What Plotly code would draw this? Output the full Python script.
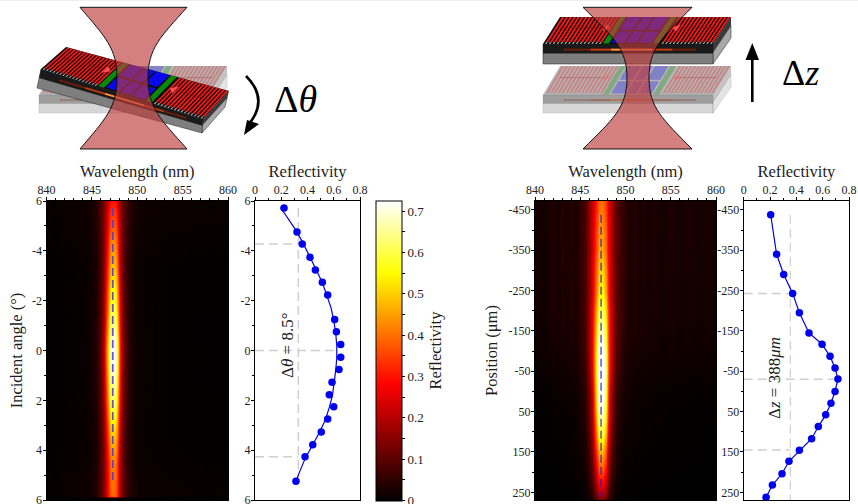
import plotly.graph_objects as go

W, H = 858, 504

# ---------- data ----------
wavelength_nm = [840, 841, 842, 842.5, 843, 843.5, 844, 844.5, 845, 845.5, 846, 846.3, 846.55, 846.8, 847.05,
                 847.3, 847.55, 847.8, 848.05, 848.3, 848.6, 849, 849.5, 850, 850.5, 851, 851.5, 852, 852.5,
                 853, 854, 855, 856, 857, 858, 859, 860]
line_profile = [0, .002, .004, .008, .004, .010, .008, .018, .025, .05, .14, .26, .45, .75, .97,
                1, .97, .75, .45, .26, .14, .06, .03, .014, .02, .008, .014, .005, .01,
                .004, .006, .002, .004, .001, .002, .001, 0]
background_streaks = [1, .6, 1.2, .7, 1.3, .8, 1.3, .8, 1.6, 2.2, 4, 5, 5, 5, 5,
                      5, 5, 5, 5, 5, 4, 3, 2, 1.3, .8, 1.2, .7, 1.2, .7,
                      1.1, .7, 1.1, .7, 1, .7, 1, .7]

angle_rows = [-6, -5.5, -5, -4.5, -4, -3.5, -3, -2.5, -2, -1.5, -1, -.5, 0, .5, 1, 1.5, 2, 2.5, 3, 3.5, 4, 4.5, 5, 5.5, 5.85, 5.9, 6]
angle_peak = [.24, .29, .33, .38, .42, .46, .50, .54, .57, .61, .65, .70, .73, .72, .69, .65, .62, .57, .52, .47, .43, .39, .37, .35, .34, 0, 0]
angle_background = [.012, .012, .01, .008, .006, .004, .003, .003, .003, .002, .002, .002, .002, .002, .002, .002, .003, .003, .003, .004, .005, .006, .008, .01, .01, 0, 0]

position_rows = [-472, -450, -400, -350, -300, -250, -200, -150, -100, -50, 0, 50, 100, 150, 200, 250, 262, 269]
position_peak = [.25, .26, .29, .32, .37, .42, .50, .58, .67, .74, .74, .69, .60, .47, .36, .22, .17, .12]
position_background = [.03, .03, .03, .028, .028, .025, .025, .022, .018, .012, .006, .004, .003, .002, .001, 0, 0, 0]

angle_points = [-5.72, -4.76, -4.27, -3.74, -3.23, -2.74, -2.23, -1.24, -.75, -.24, .27, .76, 1.27, 1.78, 2.26, 2.75, 3.27, 3.78, 4.26, 5.25]
angle_reflect = [.221, .32, .36, .419, .46, .513, .554, .607, .62, .653, .653, .64, .587, .566, .6, .554, .505, .44, .381, .312]
angle_fit_y = [-5.73, -5.2, -4.76, -4.27, -3.7, -3.2, -2.7, -2.2, -1.7, -1.2, -.7, -.2, .3, .8, 1.3, 1.8, 2.3, 2.8, 3.3, 3.8, 4.3, 4.8, 5.25]
angle_fit_r = [.196, .265, .32, .37, .425, .47, .515, .55, .58, .6, .615, .623, .623, .615, .605, .59, .565, .535, .49, .44, .385, .345, .312]

position_points = [-438, -340, -290, -243, -195, -145, -117, -87, -58, -31, 0, 29, 58, 87, 117, 146, 173, 204, 232, 262]
position_reflect = [.205, .25, .304, .372, .423, .496, .595, .656, .694, .716, .694, .663, .623, .567, .516, .423, .344, .291, .218, .17]

angle_ticks = [-6, -4, -2, 0, 2, 4, 6]
angle_tick_text = ['6', '-4', '-2', '0', '2', '4', '6']
position_ticks = [-450, -350, -250, -150, -50, 50, 150, 250]
position_tick_text = ['-450', '-350', '-250', '-150', '-50', '50', '150', '250']
colorbar_ticks = [0, .05, .1, .15, .2, .25, .3, .35, .4, .45, .5, .55, .6, .65, .7]
colorbar_text = ['0', '', '0.1', '', '0.2', '', '0.3', '', '0.4', '', '0.5', '', '0.6', '', '0.7\u00a0\u00a0']

angle_fwhm = [-4.27, 4.26]
position_fwhm = [-243, 145]
angle_mid_lambda = 847.3
position_mid_lambda = 847.3

# ---------- helpers ----------
def dom_x(a, b): return [a / W, b / W]
def dom_y(a, b): return [1 - b / H, 1 - a / H]
def fx(x): return round(x / W, 5)
def fy(y): return round(1 - y / H, 5)
def lerp(a, b, t): return (a[0] + (b[0] - a[0]) * t, a[1] + (b[1] - a[1]) * t)
def sub(pts): return 'M' + ' L'.join(f'{fx(x)},{fy(y)}' for x, y in pts) + ' Z'

shapes = []
def add(path, fill=None, line=None, w=0, op=1.0):
    shapes.append(dict(type='path', xref='paper', yref='paper', path=path, fillcolor=fill or 'rgba(0,0,0,0)',
                       line=dict(color=line or 'rgba(0,0,0,0)', width=w), opacity=op, layer='above'))

def device(A, B, C, D, E, F, G, op=1.0, n_left=15, n_right=14):
    def P(u, v): return lerp(lerp(B, C, u), lerp(A, D, u), v)
    def quad(u0, u1, v0, v1): return sub([P(u0, v0), P(u1, v0), P(u1, v1), P(u0, v1)])
    add(sub([C, D, lerp(D, G, .42), lerp(C, F, .42)]), '#3a3a3a', None, 0, op)
    add(sub([lerp(C, F, .42), lerp(D, G, .42), G, F]), '#a8a8a8', '#222', .5, op)
    add(sub([B, C, F, E]), '#7e7e7e', '#222', .5, op)
    add(sub([B, C, lerp(C, F, .48), lerp(B, E, .48)]), '#1a1a1a', None, 0, op)
    add(sub([A, B, C, D]), '#0c0c0c', None, 0, op)
    red, teeth = [], []
    for u0, u1, n in ((0.005, .345, n_left), (.69, .998, n_right)):
        pitch = (u1 - u0) / n
        for i in range(n):
            a = u0 + i * pitch
            red.append(quad(a + pitch * .3, a + pitch * .9, .07, 1))
            teeth.append(quad(a + pitch * .3, a + pitch * .7, 0, .07))
    add(' '.join(red), '#f01818', None, 0, op)
    add(' '.join(teeth), '#a0a0a0', None, 0, op)
    add(quad(.35, .385, .02, 1), '#0a8a0a', None, 0, op)
    add(quad(.645, .68, .02, 1), '#0a8a0a', None, 0, op)
    panels = [quad(a, b, c, d) for a, b in ((.395, .475), (.485, .545), (.555, .635))
              for c, d in ((.05, .47), (.53, 1))]
    add(' '.join(panels), '#0808f0', None, 0, op)
    # thin loop lines and arrows on the gratings
    add('M' + f'{fx(P(.04, .6)[0])},{fy(P(.04, .6)[1])} L{fx(P(.30, .6)[0])},{fy(P(.30, .6)[1])}', None, '#8a1010', .8, op)
    add('M' + f'{fx(P(.96, .6)[0])},{fy(P(.96, .6)[1])} L{fx(P(.72, .6)[0])},{fy(P(.72, .6)[1])}', None, '#8a1010', .8, op)
    add(sub([P(.335, .6), P(.30, .73), P(.30, .47)]), '#ff5050', None, 0, op)
    add(sub([P(.70, .6), P(.735, .73), P(.735, .47)]), '#ff5050', None, 0, op)
    # glowing guided mode along the front face
    for u0, u1, col, wd in ((.12, .9, '#7a1c06', 1.6), (.28, .76, '#c83c10', 1.6), (.40, .64, '#ffa040', 1.6)):
        p0 = lerp(lerp(B, E, .28), lerp(C, F, .28), u0)
        p1 = lerp(lerp(B, E, .28), lerp(C, F, .28), u1)
        add(f'M{fx(p0[0])},{fy(p0[1])} L{fx(p1[0])},{fy(p1[1])}', None, col, wd, op)

def beam(xl0, xr0, xwl, xwr, ytop, ybot, yw):
    def c(pts): return ' '.join(f'{fx(x)},{fy(y)}' for x, y in pts)
    dl, dr = xwl - xl0, xr0 - xwr
    ht, hb = yw - ytop, ybot - yw
    left = f'M{c([(xl0, ytop)])} C{c([(xl0 + dl * .68, ytop + ht * .42), (xwl, yw - ht * .42), (xwl, yw)])} C{c([(xwl, yw + hb * .42), (xl0 + dl * .68, ybot - hb * .42), (xl0, ybot)])}'
    right = f'M{c([(xr0, ytop)])} C{c([(xr0 - dr * .68, ytop + ht * .42), (xwr, yw - ht * .42), (xwr, yw)])} C{c([(xwr, yw + hb * .42), (xr0 - dr * .68, ybot - hb * .42), (xr0, ybot)])}'
    fill = left + f' L{c([(xr0, ybot)])} C{c([(xr0 - dr * .68, ybot - hb * .42), (xwr, yw + hb * .42), (xwr, yw)])} C{c([(xwr, yw - ht * .42), (xr0 - dr * .68, ytop + ht * .42), (xr0, ytop)])} Z'
    add(fill, 'rgba(190,60,60,0.65)')
    add(left, None, '#111', 1)
    add(right, None, '#111', 1)
    add(f'M{c([(xl0, ytop)])} L{c([(xr0, ytop)])}', None, '#111', 1)
    add(f'M{c([(xl0, ybot)])} L{c([(xr0, ybot)])}', None, '#111', 1)

# top hairline of the page
add(sub([(0, 0), (W, 0), (W, 1), (0, 1)]), '#eeeeee')

ghost = [(560, 66), (543, 95), (713, 95), (731, 66), (543, 113), (713, 113), (731, 87)]
device(*[(x - 504, y) for x, y in ghost], op=.3)
device((66, 47), (41, 69), (203, 119), (229, 91), (37, 88), (202, 133), (225, 107), n_left=17, n_right=15)
beam(80, 187, 117, 148, 7.3, 149, 78)

device(*ghost, op=.3)
device((560, 17), (543, 44), (713, 44), (731, 17), (543, 64), (713, 64), (731, 38))
beam(583, 692, 627, 649, 7.3, 149, 78)

# motion arrows
add(f'M{fx(246)},{fy(76)} C{fx(262)},{fy(92)} {fx(262)},{fy(108)} {fx(249)},{fy(124)}', None, '#000', 2.6)
add(sub([(244, 135), (259, 124), (247, 120)]), '#000')
add(f'M{fx(752.3)},{fy(102)} L{fx(752.3)},{fy(58)}', None, '#000', 2.6)
add(sub([(752.3, 43), (745.5, 60), (759, 60)]), '#000')

# ---------- figure ----------
hot = [[0, '#000000'], [.39, '#ff0000'], [.76, '#ffff00'], [1, '#ffffff']]
TXT = '#1c1c1c'
gray = '#cfcfcf'
font = 'Liberation Serif'

def matrix(peak, bg):
    return [[p * s + b * t for s, t in zip(line_profile, background_streaks)] for p, b in zip(peak, bg)]

fig = go.Figure()
fig.add_trace(go.Heatmap(x=wavelength_nm, y=angle_rows, z=matrix(angle_peak, angle_background), coloraxis='coloraxis',
                         zsmooth='best', xaxis='x', yaxis='y', hoverinfo='skip'))
fig.add_trace(go.Scatter(x=[angle_mid_lambda, angle_mid_lambda], y=[angle_points[0], angle_points[-1]], mode='lines',
                         line=dict(color='rgba(80,50,220,0.85)', width=1.8, dash='8px,4px'), xaxis='x', yaxis='y'))
fig.add_trace(go.Heatmap(x=wavelength_nm, y=position_rows, z=matrix(position_peak, position_background), coloraxis='coloraxis',
                         zsmooth='best', xaxis='x3', yaxis='y3', hoverinfo='skip'))
fig.add_trace(go.Scatter(x=[position_mid_lambda, position_mid_lambda], y=[position_points[0], position_points[-1]], mode='lines',
                         line=dict(color='#1a1ae0', width=1.1, dash='8px,4px'), xaxis='x3', yaxis='y3'))

# reflectivity vs. angle
half_line = angle_reflect[2] - .03
dash = dict(color=gray, width=1.5, dash='9px,5px')
for ys, xs in (([angle_fwhm[0]] * 2, [0, half_line]), ([0, 0], [0, angle_fit_r[11]]), ([angle_fwhm[1]] * 2, [0, half_line]),
               ([angle_points[0], angle_points[-1]], [half_line, half_line])):
    fig.add_trace(go.Scatter(x=xs, y=ys, mode='lines', line=dash, xaxis='x2', yaxis='y2'))
fig.add_trace(go.Scatter(x=angle_fit_r, y=angle_fit_y, mode='lines', line=dict(color='#0000f0', width=1.2), xaxis='x2', yaxis='y2'))
fig.add_trace(go.Scatter(x=angle_reflect, y=angle_points, mode='markers', marker=dict(color='#0000f0', size=7.5), xaxis='x2', yaxis='y2'))

# reflectivity vs. position
half_p = .354
for ys, xs in (([position_fwhm[0]] * 2, [0, half_p]), ([-30, -30], [0, position_reflect[9]]), ([position_fwhm[1]] * 2, [0, half_p])):
    fig.add_trace(go.Scatter(x=xs, y=ys, mode='lines', line=dash, xaxis='x4', yaxis='y4'))
fig.add_trace(go.Scatter(x=[half_p, half_p], y=[position_points[0], 269], mode='lines',
                         line=dict(color=gray, width=1.2, dash='9px,5px'), xaxis='x4', yaxis='y4'))
fig.add_trace(go.Scatter(x=position_reflect, y=position_points, mode='lines+markers', line=dict(color='#0000f0', width=1.2),
                         marker=dict(color='#0000f0', size=7.5), xaxis='x4', yaxis='y4'))

def top_axis(dom, rng, title, anchor, dtick, minor):
    return dict(domain=dom, range=rng, side='top', anchor=anchor, dtick=dtick, tick0=rng[0], ticks='outside', ticklen=3,
                tickcolor='#000', showline=True, linecolor='#000', linewidth=1, mirror=True, showgrid=False, zeroline=False,
                automargin=True, ticklabelstandoff=-2,
                minor=dict(dtick=minor, ticks='outside', ticklen=2, tickcolor='#000', showgrid=False),
                title=dict(text=title, standoff=1, font=dict(size=16.5, color=TXT, family=font)),
                tickfont=dict(size=12, color=TXT, family=font))

def side_axis(dom, rng, anchor, vals, text, minor, title=None, standoff=8):
    d = dict(domain=dom, range=rng, anchor=anchor, tickmode='array', tickvals=vals, ticktext=text, ticks='outside', ticklen=3,
             tickcolor='#000', showline=True, linecolor='#000', linewidth=1, mirror=True, showgrid=False, zeroline=False,
             automargin=True, ticklabelstandoff=-2, ticklabeloverflow='allow',
             minor=dict(tickvals=minor, ticks='outside', ticklen=2, tickcolor='#000', showgrid=False),
             tickfont=dict(size=12, color=TXT, family=font))
    if title:
        d['title'] = dict(text=title, standoff=standoff, font=dict(size=16.5, color=TXT, family=font))
    return d

ymain = dom_y(201, 500)
angle_minor = [-5, -3, -1, 1, 3, 5]
pos_minor = [-400, -300, -200, -100, 0, 100, 200]

fig.update_layout(
    width=W, height=H, margin=dict(l=0, r=0, t=0, b=0, autoexpand=False), paper_bgcolor='white', plot_bgcolor='white', showlegend=False,
    font=dict(family=font, size=12, color=TXT),
    xaxis=top_axis(dom_x(46.5, 228), [840, 860], 'Wavelength (nm)', 'y', 5, 1),
    yaxis=side_axis(ymain, [6, -6], 'x', angle_ticks, angle_tick_text, angle_minor, 'Incident angle (°)', 5),
    xaxis2=top_axis(dom_x(255, 360), [0, .8], 'Reflectivity', 'y2', .2, .1),
    yaxis2=side_axis(ymain, [6, -6], 'x2', angle_ticks, angle_tick_text, angle_minor),
    xaxis3=top_axis(dom_x(535, 716), [840, 860], 'Wavelength (nm)', 'y3', 5, 1),
    yaxis3=side_axis(ymain, [269, -472], 'x3', position_ticks, position_tick_text, pos_minor, 'Position (μm)', 6),
    xaxis4=top_axis(dom_x(743.7, 849), [0, .8], 'Reflectivity', 'y4', .2, .1),
    yaxis4=side_axis(ymain, [269, -472], 'x4', position_ticks, position_tick_text, pos_minor),
    coloraxis=dict(cmin=0, cmax=.7257, colorscale=hot, colorbar=dict(
        x=375.7 / W, xanchor='left', y=1 - 500.5 / H, yanchor='bottom', len=299.5, lenmode='pixels', thickness=26,
        thicknessmode='pixels', xpad=0, ypad=0, tickmode='array', tickvals=colorbar_ticks, ticktext=colorbar_text,
        ticks='outside', ticklen=3, tickcolor='#000', outlinewidth=1, outlinecolor='#000', ticklabeloverflow='allow',
        tickfont=dict(size=13, color=TXT, family=font),
        title=dict(text='Reflectivity', side='right', font=dict(size=16.5, color=TXT, family=font)))),
    shapes=shapes,
    annotations=[
        dict(text='Δ<i>θ</i>', x=295 / W, y=1 - 99 / H, xref='paper', yref='paper', showarrow=False, xanchor='center', yanchor='middle',
             font=dict(size=38, color='#000', family=font)),
        dict(text='Δ<i>z</i>', x=800 / W, y=1 - 73 / H, xref='paper', yref='paper', showarrow=False, xanchor='center', yanchor='middle',
             font=dict(size=36, color='#000', family=font)),
        dict(text='Δ<i>θ</i> = 8.5°', x=287 / W, y=1 - 346 / H, xref='paper', yref='paper', showarrow=False, textangle=-90, xanchor='center', yanchor='middle',
             font=dict(size=17, color=TXT, family=font)),
        dict(text='Δ<i>z</i> = 388<i>μm</i>', x=774 / W, y=1 - 378 / H, xref='paper', yref='paper', showarrow=False, textangle=-90, xanchor='center', yanchor='middle',
             font=dict(size=17, color=TXT, family=font)),
    ],
)
fig.write_html('out.html', config=dict(displayModeBar=False), post_script="document.body.style.margin='0';")
